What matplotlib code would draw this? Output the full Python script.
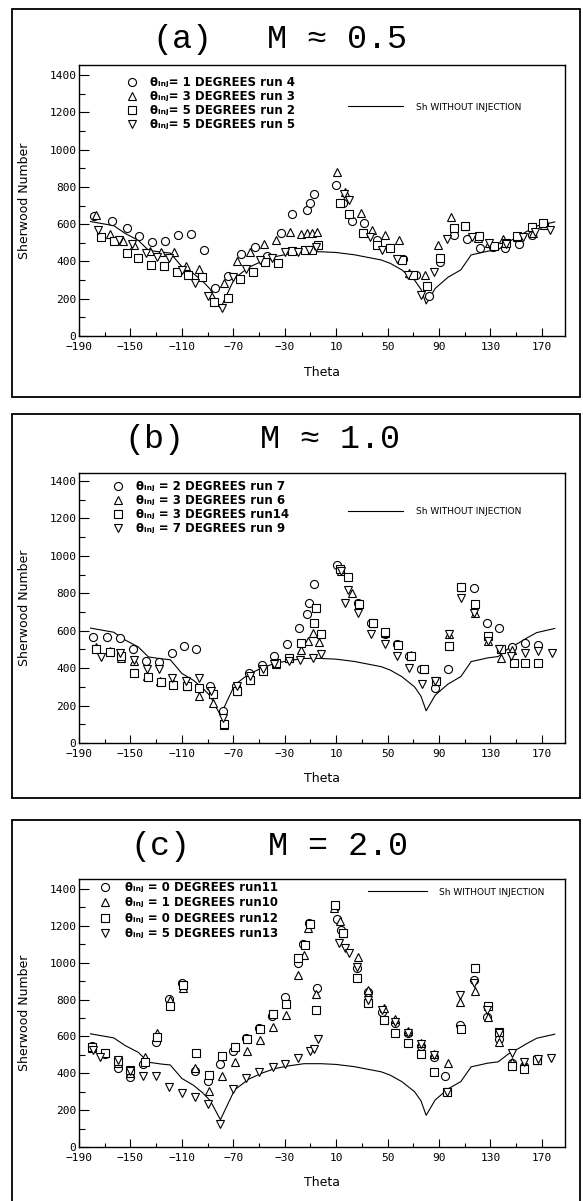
import matplotlib
matplotlib.use("Agg")
import matplotlib.pyplot as plt
from matplotlib.patches import Rectangle

# ---------------- data ----------------
BASE_THETA = [-181, -163, -154, -144, -136, -126, -119, -110, -101, -94, -88, -80, -69, -58, -48, -38,
              -27, -15, -2, 10, 24, 36, 45, 52, 61, 71, 76, 80, 87, 97, 107, 115, 128, 136, 144, 152,
              158, 166, 180]
BASE_SH = [614, 592, 550, 514, 460, 450, 445, 372, 335, 295, 252, 148, 310, 368, 400, 425,
           440, 452, 452, 448, 436, 420, 408, 390, 355, 300, 250, 172, 255, 315, 355, 435, 455, 462, 505, 535,
           560, 590, 612]

# panel (a)  M ~ 0.5
A1_T = [-178, -164, -153, -143, -133, -123, -113, -103, -93, -84, -74, -64, -53, -44, -33, -24, -13, -10, -7,
        10, 15, 22, 32, 42, 52, 62, 72, 82, 91, 102, 112, 122, 132, 141, 152, 162, 172]
A1_V = [645, 615, 580, 535, 503, 510, 540, 548, 463, 258, 323, 440, 480, 429, 554, 655, 675, 716, 761,
        812, 714, 618, 607, 514, 470, 411, 327, 214, 395, 541, 520, 470, 480, 473, 491, 541, 600]
A2_T = [-177, -166, -156, -147, -135, -126, -116, -107, -97, -77, -67, -57, -46, -37, -26, -17, -13, -9, -5,
        11, 17, 29, 38, 48, 59, 67, 79, 89, 99, 110, 120, 129, 140, 151, 163, 172]
A2_V = [648, 546, 512, 487, 457, 452, 452, 375, 362, 282, 403, 452, 493, 514, 559, 545, 550, 554, 559,
        881, 770, 661, 571, 541, 514, 336, 327, 487, 639, 589, 525, 500, 518, 532, 550, 595]
A3_T = [-173, -163, -153, -144, -134, -124, -114, -105, -94, -85, -74, -65, -55, -45, -35, -24, -14, -9, -4,
        13, 20, 31, 42, 52, 61, 70, 81, 91, 102, 110, 121, 133, 142, 151, 162, 171]
A3_V = [529, 511, 443, 416, 380, 375, 345, 327, 318, 184, 202, 304, 345, 398, 389, 457, 461, 461, 487,
        715, 657, 555, 487, 470, 407, 327, 268, 416, 577, 589, 536, 482, 500, 536, 586, 604]
A4_T = [-175, -159, -149, -138, -129, -120, -110, -100, -90, -79, -70, -60, -49, -40, -30, -20, -11, -6,
        16, 20, 36, 46, 57, 66, 76, 86, 96, 116, 129, 142, 155, 165, 176]
A4_V = [568, 514, 496, 448, 425, 416, 354, 282, 216, 148, 318, 362, 407, 421, 452, 452, 461, 479,
        764, 729, 532, 461, 411, 327, 220, 345, 518, 532, 500, 496, 532, 559, 568]
A_LABELS = ["\u03b8\u1d62\u2099\u2c7c= 1 DEGREES run 4", "\u03b8\u1d62\u2099\u2c7c= 3 DEGREES run 3",
            "\u03b8\u1d62\u2099\u2c7c= 5 DEGREES run 2", "\u03b8\u1d62\u2099\u2c7c= 5 DEGREES run 5"]

# panel (b)  M ~ 1.0
B1_T = [-179, -168, -158, -148, -138, -128, -118, -108, -99, -88, -78, -68, -58, -48, -38, -28, -19, -13, -11, -7,
        11, 27, 37, 48, 57, 67, 76, 87, 97, 107, 117, 127, 137, 147, 157, 167]
B1_V = [568, 568, 559, 500, 437, 434, 479, 518, 500, 304, 170, 304, 375, 416, 464, 527, 616, 688, 750, 852,
        950, 746, 643, 584, 527, 464, 393, 295, 393, 834, 830, 639, 616, 515, 536, 522]
B2_T = [-177, -166, -157, -147, -137, -127, -117, -106, -97, -86, -77, -67, -57, -47, -37, -27, -17, -12, -8, -3,
        14, 22, 28, 39, 48, 58, 68, 78, 88, 98, 107, 118, 128, 138, 147]
B2_V = [512, 491, 455, 437, 357, 330, 321, 304, 250, 214, 98, 277, 348, 393, 420, 452, 495, 545, 589, 541,
        920, 804, 741, 643, 589, 527, 468, 398, 330, 584, 834, 696, 545, 455, 495]
B3_T = [-177, -166, -157, -147, -136, -126, -117, -106, -97, -86, -77, -67, -57, -47, -37, -27, -17, -7, -6, -2,
        13, 19, 28, 39, 48, 58, 68, 78, 88, 98, 107, 118, 128, 138, 148, 157, 167]
B3_V = [505, 488, 464, 375, 352, 327, 312, 304, 295, 262, 102, 277, 339, 384, 429, 455, 536, 643, 723, 580,
        929, 887, 745, 643, 593, 523, 464, 398, 330, 518, 834, 741, 571, 500, 429, 430, 430]
B4_T = [-173, -158, -147, -137, -128, -118, -107, -97, -87, -78, -67, -57, -47, -38, -27, -18, -8, -2,
        14, 17, 19, 27, 37, 48, 57, 67, 77, 87, 98, 107, 117, 128, 137, 146, 157, 167, 178]
B4_V = [459, 480, 443, 393, 393, 348, 330, 348, 280, 134, 304, 357, 393, 420, 437, 446, 455, 473,
        920, 750, 816, 696, 580, 527, 464, 402, 316, 330, 584, 773, 696, 545, 505, 464, 483, 490, 483]
B_LABELS = ["\u03b8\u1d62\u2099\u2c7c = 2 DEGREES run 7", "\u03b8\u1d62\u2099\u2c7c = 3 DEGREES run 6",
            "\u03b8\u1d62\u2099\u2c7c = 3 DEGREES run14", "\u03b8\u1d62\u2099\u2c7c = 7 DEGREES run 9"]

# panel (c)  M = 2.0
C1_T = [-180, -170, -160, -150, -140, -130, -120, -110, -100, -90, -80, -70, -60, -50, -40, -30, -20, -16, -11, -5,
        9, 11, 14, 26, 35, 46, 56, 66, 76, 86, 95, 106, 117, 127, 137, 147, 156, 166]
C1_V = [548, 504, 427, 382, 450, 571, 803, 888, 414, 360, 450, 521, 590, 647, 711, 812, 1000, 1101, 1217, 861,
        1304, 1235, 1177, 969, 843, 734, 671, 617, 550, 490, 385, 662, 906, 703, 584, 457, 440, 480]
C2_T = [-180, -160, -150, -139, -129, -119, -109, -100, -89, -79, -69, -59, -49, -39, -29, -20, -15, -12, -6,
        8, 13, 15, 27, 35, 47, 56, 66, 76, 86, 97, 106, 118, 128, 137, 147, 156, 166]
C2_V = [535, 458, 400, 490, 617, 797, 861, 427, 306, 385, 459, 523, 580, 649, 716, 933, 1042, 1186, 830,
        1295, 1228, 1163, 1033, 852, 752, 693, 629, 562, 504, 454, 788, 848, 703, 571, 463, 450, 470]
C3_T = [-180, -170, -160, -150, -139, -129, -119, -109, -99, -89, -79, -69, -59, -49, -39, -29, -20, -14, -10, -6,
        9, 15, 26, 35, 47, 56, 66, 76, 86, 96, 107, 118, 128, 137, 147, 156, 166]
C3_V = [544, 508, 468, 418, 463, 595, 765, 879, 512, 391, 495, 544, 584, 638, 721, 776, 1023, 1096, 1210, 743,
        1313, 1159, 915, 783, 689, 620, 562, 504, 409, 297, 638, 969, 765, 626, 439, 425, 470]
C4_T = [-179, -174, -160, -150, -140, -130, -120, -110, -100, -90, -80, -70, -60, -50, -39, -30, -20, -10, -7, -4,
        12, 17, 20, 26, 35, 46, 56, 66, 76, 86, 96, 106, 117, 127, 137, 147, 156, 167, 177]
C4_V = [526, 490, 470, 410, 385, 387, 327, 295, 273, 233, 125, 313, 373, 409, 436, 450, 485, 521, 530, 586,
        1105, 1078, 1051, 975, 797, 743, 680, 620, 559, 499, 300, 825, 888, 743, 620, 508, 460, 480, 485]
C_LABELS = ["\u03b8\u1d62\u2099\u2c7c = 0 DEGREES run11", "\u03b8\u1d62\u2099\u2c7c = 1 DEGREES run10",
            "\u03b8\u1d62\u2099\u2c7c = 0 DEGREES run12", "\u03b8\u1d62\u2099\u2c7c = 5 DEGREES run13"]

LINE_LABEL = "Sh WITHOUT INJECTION"
X_TICKS = list(range(-190, 171, 40))
X_MINOR = list(range(-170, 171, 40))
Y_TICKS = list(range(0, 1401, 200))
Y_MINOR = list(range(100, 1400, 200))

# ---------------- layout ----------------
W, H = 583, 1201
fig = plt.figure(figsize=(W / 100, H / 100), dpi=100)

MARKERS = [("o", 5.8), ("^", 5.8), ("s", 5.2), ("v", 5.8)]
TITLE_FONT = ["Liberation Mono", "DejaVu Sans Mono"]
LEG_FONT = ["DejaVu Sans", "Noto Sans", "DejaVu Sans Mono"]
LEG_FS = 8.5

panels = [
    dict(top=65, bottom=336, ytop=1454, frame=(9, 397),
         tag="(a)", tag_x=182, mtxt="M \u2248 0.5", m_x=267, base_y=48,
         series=[(A1_T, A1_V), (A2_T, A2_V), (A3_T, A3_V), (A4_T, A4_V)], labels=A_LABELS,
         leg=(0.0969, 0.960), legspace=0.08, legpad=1.0,
         sh=(0.553, 0.845), shlen=6.1, shpad=1.44),
    dict(top=473, bottom=743, ytop=1443, frame=(414, 798),
         tag="(b)", tag_x=154, mtxt="M \u2248 1.0", m_x=260, base_y=448,
         series=[(B1_T, B1_V), (B2_T, B2_V), (B3_T, B3_V), (B4_T, B4_V)], labels=B_LABELS,
         leg=(0.0681, 0.974), legspace=0.08, legpad=1.0,
         sh=(0.553, 0.856), shlen=6.1, shpad=1.44),
    dict(top=879, bottom=1147, ytop=1454, frame=(820, 1210),
         tag="(c)", tag_x=160, mtxt="M = 2.0", m_x=268, base_y=855,
         series=[(C1_T, C1_V), (C2_T, C2_V), (C3_T, C3_V), (C4_T, C4_V)], labels=C_LABELS,
         leg=(0.0414, 0.993), legspace=0.21, legpad=1.19,
         sh=(0.595, 0.951), shlen=6.55, shpad=1.33),
]

for p in panels:
    # outer frame of the panel
    ft, fb = p["frame"]
    fig.patches.append(Rectangle((12 / W, 1 - fb / H), (580 - 12) / W, (fb - ft) / H,
                                 transform=fig.transFigure, fill=False, lw=1.3, ec="black"))
    # title
    fig.text(p["tag_x"] / W, 1 - p["base_y"] / H, p["tag"], family=TITLE_FONT, fontsize=24,
             ha="center", va="baseline")
    fig.text(p["m_x"] / W, 1 - p["base_y"] / H, p["mtxt"], family=TITLE_FONT, fontsize=24,
             ha="left", va="baseline")

    ax = fig.add_axes([79 / W, 1 - p["bottom"] / H, (565 - 79) / W, (p["bottom"] - p["top"]) / H])
    ax.set_xlim(-190, 188)
    ax.set_ylim(0, p["ytop"])
    base, = ax.plot(BASE_THETA, BASE_SH, color="black", lw=0.8, zorder=2)
    handles = []
    for (t, v), (m, ms) in zip(p["series"], MARKERS):
        h, = ax.plot(t, v, ls="none", marker=m, ms=ms, mfc="white", mec="black", mew=0.8, zorder=3)
        handles.append(h)

    ax.set_xticks(X_TICKS)
    ax.set_xticks(X_MINOR, minor=True)
    ax.set_yticks(Y_TICKS)
    ax.set_yticks(Y_MINOR, minor=True)
    ax.tick_params(axis="x", which="major", direction="in", length=5.5, width=0.8, pad=4.5,
                   labelsize=8, labelfontfamily="DejaVu Sans Mono")
    ax.tick_params(axis="x", which="minor", direction="in", length=3, width=0.8)
    ax.tick_params(axis="y", which="major", direction="in", length=7, width=0.8, pad=2,
                   labelsize=8, labelfontfamily="DejaVu Sans Mono")
    ax.tick_params(axis="y", which="minor", direction="in", length=4, width=0.8)
    for s in ax.spines.values():
        s.set_linewidth(1.0)

    ax.set_xlabel("Theta", fontsize=9, va="center")
    ax.xaxis.set_label_coords(0.5, -36 / (p["bottom"] - p["top"]))
    ax.set_ylabel("Sherwood Number", fontsize=9, va="center")
    ax.yaxis.set_label_coords(-54 / 486, 0.5)

    leg1 = ax.legend(handles, p["labels"], loc="upper left", bbox_to_anchor=p["leg"],
                     frameon=False, prop={"family": LEG_FONT, "weight": "bold", "size": LEG_FS},
                     handlelength=1.0, handletextpad=p["legpad"], labelspacing=p["legspace"],
                     borderpad=0, borderaxespad=0)
    ax.add_artist(leg1)
    ax.legend([base], [LINE_LABEL], loc="center left", bbox_to_anchor=p["sh"], frameon=False,
              prop={"size": 6.5}, handlelength=p["shlen"], handletextpad=p["shpad"],
              borderpad=0, borderaxespad=0)

fig.savefig("out.png", dpi=100)
